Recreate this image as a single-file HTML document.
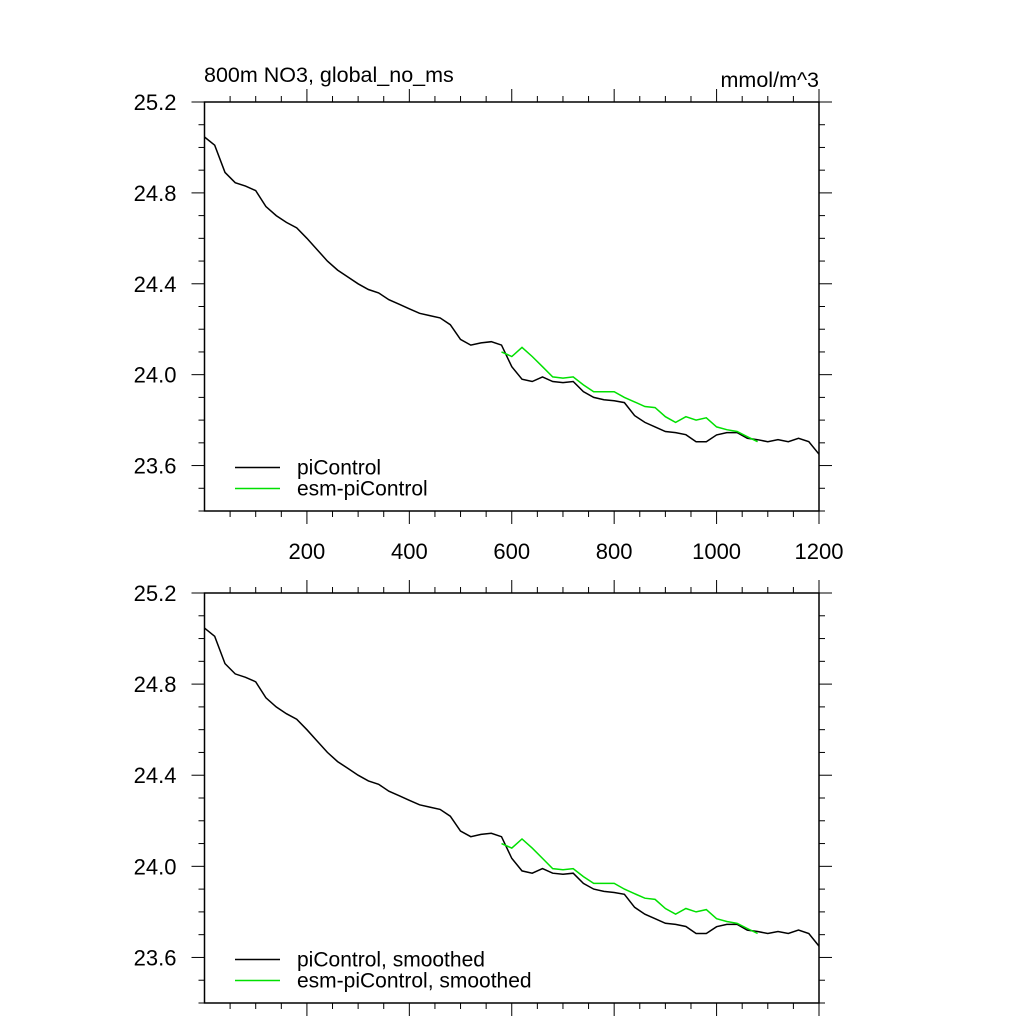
<!DOCTYPE html>
<html><head><meta charset="utf-8"><style>
body{margin:0;background:#fff}
svg{display:block;font-family:"Liberation Sans",sans-serif}
</style></head><body>
<svg id="c" width="1024" height="1024" viewBox="0 0 1024 1024">
<text x="204" y="82" font-size="21.5">800m NO3, global_no_ms</text>
<text x="819" y="87" font-size="21.5" text-anchor="end">mmol/m^3</text>
</svg>
<script>
const years = [0,20,40,60,80,100,120,140,160,180,200,220,240,260,280,300,320,340,360,380,400,420,440,460,480,500,520,540,560,580,600,620,640,660,680,700,720,740,760,780,800,820,840,860,880,900,920,940,960,980,1000,1020,1040,1060,1080,1100,1120,1140,1160,1180,1200];
const piControl = [25.046,25.01,24.89,24.845,24.83,24.81,24.74,24.70,24.67,24.646,24.60,24.55,24.50,24.46,24.43,24.40,24.375,24.36,24.33,24.31,24.29,24.27,24.26,24.25,24.22,24.155,24.13,24.14,24.145,24.13,24.035,23.98,23.97,23.99,23.97,23.965,23.97,23.925,23.90,23.89,23.885,23.877,23.82,23.79,23.77,23.75,23.745,23.736,23.705,23.705,23.735,23.745,23.745,23.72,23.714,23.705,23.714,23.705,23.72,23.705,23.65];
const esmYears = [580,600,620,640,660,680,700,720,740,760,780,800,820,840,860,880,900,920,940,960,980,1000,1020,1040,1060,1080];
const esmPiControl = [24.10,24.08,24.12,24.08,24.035,23.99,23.985,23.99,23.955,23.925,23.925,23.925,23.90,23.88,23.86,23.855,23.815,23.79,23.815,23.80,23.81,23.77,23.758,23.75,23.727,23.705];
const xTicks = [200,400,600,800,1000,1200];
const yTicks = [25.2,24.8,24.4,24.0,23.6];

const svg = document.getElementById('c');
const NS = 'http://www.w3.org/2000/svg';
const X0=204.5, X1=819;
const xs = v => X0 + (v-0)/(1200-0)*(X1-X0);
function mk(tag, attrs){const e=document.createElementNS(NS,tag);for(const k in attrs)e.setAttribute(k,attrs[k]);svg.appendChild(e);return e;}

function panel(top, bottom, showX, labels, idx){
  const ys = v => top + (25.2 - v)/(25.2-23.4)*(bottom-top);
  const f = mk('rect',{x:X0,y:top,width:X1-X0,height:bottom-top,fill:'none',stroke:'#000','stroke-width':1.5});
  
  
  for(let v=50; v<=1200; v+=50){
    const major = v%200===0; const L = major?13:6; const x=xs(v);
    const t1=mk('line',{x1:x,x2:x,y1:bottom,y2:bottom+L,stroke:'#000','stroke-width':1});
    
    
    const t2=mk('line',{x1:x,x2:x,y1:top,y2:top-L,stroke:'#000','stroke-width':1});
    
    
  }
  for(let k=0;k<=18;k++){
    const v=25.2-k*0.1; const major = k%4===0; const L = major?13:6; const y=ys(v);
    const t1=mk('line',{x1:X0,x2:X0-L,y1:y,y2:y,stroke:'#000','stroke-width':1});
    
    
    const t2=mk('line',{x1:X1,x2:X1+L,y1:y,y2:y,stroke:'#000','stroke-width':1});
    
    
  }
  yTicks.forEach(v=>{
    const t=mk('text',{x:X0-28,y:ys(v)+8,'font-size':22,'text-anchor':'end'});
    t.textContent=v.toFixed(1);
    
    
  });
  if(showX) xTicks.forEach(v=>{
    const t=mk('text',{x:xs(v),y:bottom+48,'font-size':22,'text-anchor':'middle'});
    t.textContent=v;
    
    
  });
  const p1=mk('path',{d:years.map((y,i)=>(i?'L':'M')+xs(y).toFixed(1)+','+ys(piControl[i]).toFixed(1)).join(''),fill:'none',stroke:'#000','stroke-width':1.5});
  
  
  const p2=mk('path',{d:esmYears.map((y,i)=>(i?'L':'M')+xs(y).toFixed(1)+','+ys(esmPiControl[i]).toFixed(1)).join(''),fill:'none',stroke:'#00e000','stroke-width':1.5});
  
  
  [[0,'#000',labels[0]],[1,'#00e000',labels[1]]].forEach(([i,c,s])=>{
    const y=ys(23.6)+2+i*21;
    const l=mk('line',{x1:235,x2:280,y1:y,y2:y,stroke:c,'stroke-width':1.5});
    
    
    const t=mk('text',{x:297,y:y+7,'font-size':21});
    t.textContent=s;
    
    
  });
}
panel(102,511,true,['piControl','esm-piControl'],1);
panel(593,1003,false,['piControl, smoothed','esm-piControl, smoothed'],2);
</script>
</body></html>
